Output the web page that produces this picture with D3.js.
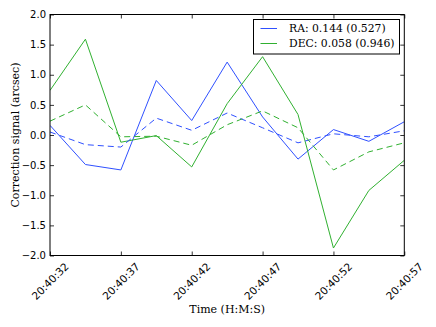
<!DOCTYPE html>
<html>
<head>
<meta charset="utf-8">
<script src="https://cdn.jsdelivr.net/npm/d3@7/dist/d3.min.js"></script>
<style>
  html, body { margin: 0; padding: 0; background: #fff; }
  svg { display: block; }
</style>
</head>
<body>
<div id="chart"></div>
<script>
// seconds after 20:40:00
const times = [32, 34.5, 37, 39.5, 42, 44.5, 47, 49.5, 52, 54.5, 57];
const raSignal  = [0.16, -0.49, -0.58, 0.905, 0.24, 1.21, 0.30, -0.40, 0.09, -0.105, 0.22];
const decSignal = [0.74, 1.59, -0.12, -0.01, -0.53, 0.52, 1.30, 0.34, -1.876, -0.92, -0.42];
const raSmooth  = [0.05, -0.16, -0.20, 0.28, 0.078, 0.365, 0.12, -0.13, 0.02, -0.03, 0.07];
const decSmooth = [0.23, 0.50, -0.03, -0.02, -0.17, 0.17, 0.40, 0.12, -0.58, -0.28, -0.13];
const xTicks = [32, 37, 42, 47, 52, 57];
const xTickLabels = ["20:40:32", "20:40:37", "20:40:42", "20:40:47", "20:40:52", "20:40:57"];
const yTicks = [-2.0, -1.5, -1.0, -0.5, 0.0, 0.5, 1.0, 1.5, 2.0];
const legendLabels = ["RA: 0.144 (0.527)", "DEC: 0.058 (0.946)"];
const colors = ["#2f50ff", "#30b030"];

const W = 436, H = 327;
const m = {left: 50, right: 404.3, top: 14.5, bottom: 255.5};

const svg = d3.select("#chart").append("svg").attr("width", W).attr("height", H);

const x = d3.scaleLinear().domain([32, 57]).range([m.left, m.right]);
const y = d3.scaleLinear().domain([-2, 2]).range([m.bottom, m.top]);

const sans = "DejaVu Sans, sans-serif";
const serif = "DejaVu Serif, serif";

// series
const line = d3.line().x((d, i) => x(times[i])).y(d => y(d));
const series = [
  {data: raSignal, color: colors[0], dash: null},
  {data: decSignal, color: colors[1], dash: null},
  {data: raSmooth, color: colors[0], dash: "6,4"},
  {data: decSmooth, color: colors[1], dash: "6,4"}
];
const clip = svg.append("clipPath").attr("id", "clip").append("rect")
  .attr("x", m.left).attr("y", m.top).attr("width", m.right - m.left).attr("height", m.bottom - m.top);
const g = svg.append("g").attr("clip-path", "url(#clip)");
series.forEach(s => {
  g.append("path").datum(s.data)
    .attr("d", line)
    .attr("fill", "none")
    .attr("stroke", s.color)
    .attr("stroke-width", 1)
    .attr("stroke-dasharray", s.dash);
});

// axes (ticks inside on all sides)
const tl = 4;
const axB = svg.append("g").attr("transform", `translate(0,${m.bottom})`)
  .call(d3.axisBottom(x).tickValues(xTicks).tickSizeInner(-tl).tickSizeOuter(0).tickFormat(""));
const axT = svg.append("g").attr("transform", `translate(0,${m.top})`)
  .call(d3.axisTop(x).tickValues(xTicks).tickSizeInner(-tl).tickSizeOuter(0).tickFormat(""));
const axL = svg.append("g").attr("transform", `translate(${m.left},0)`)
  .call(d3.axisLeft(y).tickValues(yTicks).tickSizeInner(-tl).tickSizeOuter(0).tickPadding(4)
    .tickFormat(d => d3.format(".1f")(d).replace("-", "\u2212")));
const axR = svg.append("g").attr("transform", `translate(${m.right},0)`)
  .call(d3.axisRight(y).tickValues(yTicks).tickSizeInner(-tl).tickSizeOuter(0).tickFormat(""));
[axB, axT, axL, axR].forEach(a => {
  a.select(".domain").remove();
  a.selectAll("line").attr("stroke", "#000").attr("stroke-width", 0.8);
});
axL.selectAll("text").attr("font-family", sans).attr("font-size", 10).attr("fill", "#000")
  .attr("x", -4);

// frame
svg.append("rect").attr("x", m.left).attr("y", m.top)
  .attr("width", m.right - m.left).attr("height", m.bottom - m.top)
  .attr("fill", "none").attr("stroke", "#000").attr("stroke-width", 1);

// x tick labels rotated
svg.append("g").selectAll("text").data(xTicks).join("text")
  .attr("transform", (d) => `translate(${x(d)},281) rotate(-45)`)
  .attr("text-anchor", "middle")
  .attr("dominant-baseline", "central")
  .attr("font-family", sans).attr("font-size", 10.5).attr("fill", "#000")
  .text((d, i) => xTickLabels[i]);

// axis titles
svg.append("text").attr("x", (m.left + m.right) / 2).attr("y", 313)
  .attr("text-anchor", "middle").attr("font-family", serif).attr("font-size", 11)
  .text("Time (H:M:S)");
svg.append("text").attr("transform", `translate(19,${(m.top + m.bottom) / 2}) rotate(-90)`)
  .attr("text-anchor", "middle").attr("font-family", serif).attr("font-size", 11)
  .text("Correction signal (arcsec)");

// legend
const lg = svg.append("g");
lg.append("rect").attr("x", 253.5).attr("y", 19.5).attr("width", 146).attr("height", 34.5)
  .attr("fill", "#fff").attr("stroke", "#000").attr("stroke-width", 1);
legendLabels.forEach((t, i) => {
  const yy = 28.5 + i * 15;
  lg.append("line").attr("x1", 260.5).attr("x2", 277).attr("y1", yy).attr("y2", yy)
    .attr("stroke", colors[i]).attr("stroke-width", 1);
  lg.append("text").attr("x", 289).attr("y", yy).attr("dominant-baseline", "central")
    .attr("font-family", serif).attr("font-size", 10.8).attr("fill", "#000").text(t);
});
</script>
</body>
</html>
